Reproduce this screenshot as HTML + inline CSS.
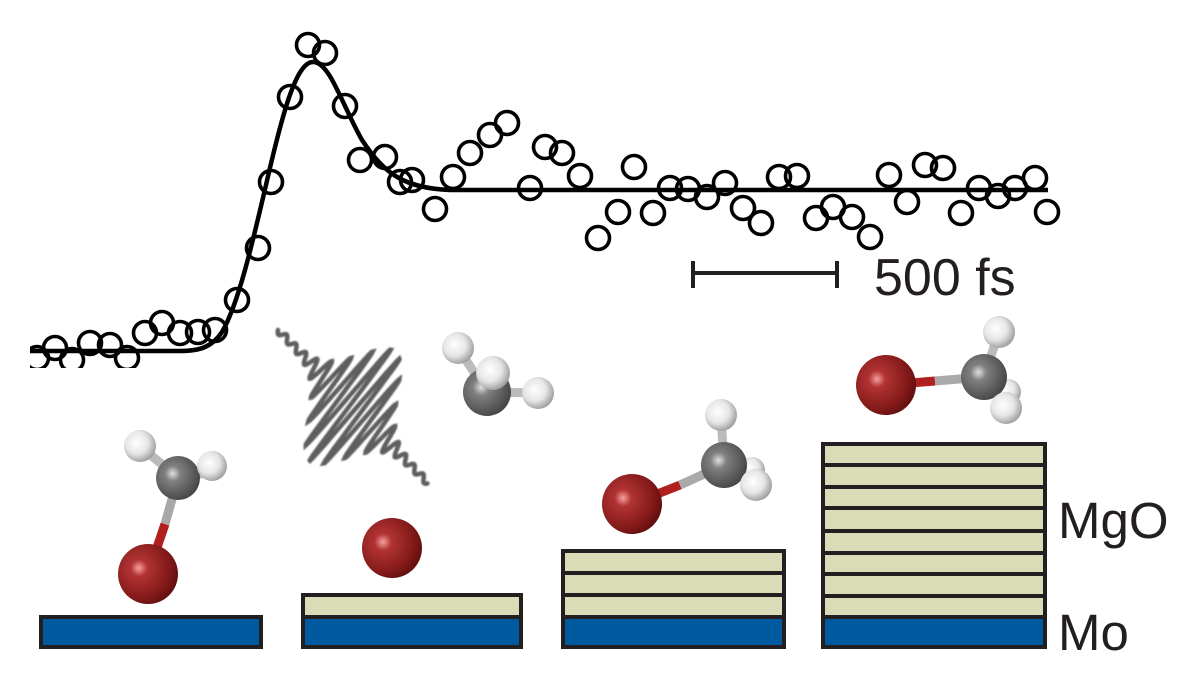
<!DOCTYPE html>
<html><head><meta charset="utf-8"><style>
html,body{margin:0;padding:0;background:#fff;}
svg{display:block;}
text{font-family:"Liberation Sans",sans-serif;fill:#231f20;}
</style></head><body>
<svg width="1200" height="675" viewBox="0 0 1200 675" xmlns="http://www.w3.org/2000/svg">
<defs>
<radialGradient id="br" cx="0.35" cy="0.4" r="0.7"><stop offset="0" stop-color="#f7a0a0"/><stop offset="0.2" stop-color="#b23333"/><stop offset="0.75" stop-color="#801818"/><stop offset="1" stop-color="#5a0d0d"/></radialGradient>
<radialGradient id="c" cx="0.38" cy="0.4" r="0.7"><stop offset="0" stop-color="#e0e0e0"/><stop offset="0.25" stop-color="#808080"/><stop offset="1" stop-color="#3e3e3e"/></radialGradient>
<radialGradient id="h" cx="0.4" cy="0.4" r="0.7"><stop offset="0" stop-color="#ffffff"/><stop offset="0.5" stop-color="#e6e6e6"/><stop offset="1" stop-color="#8a8a8a"/></radialGradient>
<filter id="blur"><feGaussianBlur stdDeviation="0.8"/></filter>
</defs>

<path d="M30,351 L180,351 C200,351 212,347 222,332 C238,305 252,245 266,185 C282,115 296,62 313,62 C330,62 342,105 362,140 C385,175 405,188 450,190 L1048,190" fill="none" stroke="#000" stroke-width="4.5"/>
<g id="pts" fill="none" stroke="#000" stroke-width="3.6"></g>

<g stroke="#231f20" stroke-width="4"><line x1="693" y1="273" x2="837" y2="273"/><line x1="693" y1="261" x2="693" y2="288"/><line x1="837" y1="261" x2="837" y2="288"/></g>
<text x="874" y="295" font-size="52">500 fs</text>

<g stroke="#231f20" stroke-width="4">
<rect x="41" y="617" width="220" height="30" fill="#005aa0"/>
<rect x="303" y="595" width="218" height="22" fill="#dadcb8"/>
<rect x="303" y="617" width="218" height="30" fill="#005aa0"/>
<rect x="563" y="551" width="221" height="22" fill="#dadcb8"/>
<rect x="563" y="573" width="221" height="22" fill="#dadcb8"/>
<rect x="563" y="595" width="221" height="22" fill="#dadcb8"/>
<rect x="563" y="617" width="221" height="30" fill="#005aa0"/>
<g fill="#dadcb8">
<rect x="823" y="444" width="222" height="21"/><rect x="823" y="465" width="222" height="22"/><rect x="823" y="487" width="222" height="21"/><rect x="823" y="508" width="222" height="23"/><rect x="823" y="531" width="222" height="22"/><rect x="823" y="553" width="222" height="21"/><rect x="823" y="574" width="222" height="22"/><rect x="823" y="596" width="222" height="21"/>
</g>
<rect x="823" y="617" width="222" height="30" fill="#005aa0"/>
</g>
<text x="1058" y="538" font-size="51">MgO</text>
<text x="1058" y="650" font-size="51">Mo</text>

<path id="pulse" fill="none" stroke="#5e5e5e" stroke-width="4.5" stroke-linecap="round" filter="url(#blur)"/>

<line x1="148" y1="574" x2="165" y2="524" stroke="#b02020" stroke-width="9"/>
<line x1="165" y1="524" x2="178" y2="478" stroke="#a8a8a8" stroke-width="9"/>
<line x1="178" y1="478" x2="140" y2="446" stroke="#bbb" stroke-width="9"/>
<line x1="178" y1="478" x2="217" y2="471" stroke="#bbb" stroke-width="9"/>
<circle cx="140" cy="446" r="16" fill="url(#h)"/>
<circle cx="178" cy="478" r="22" fill="url(#c)"/>
<circle cx="212" cy="466" r="15" fill="url(#h)"/>
<circle cx="148" cy="574" r="30" fill="url(#br)"/>

<circle cx="392" cy="548" r="30" fill="url(#br)"/>
<line x1="458" y1="348" x2="487" y2="392" stroke="#bbb" stroke-width="9"/>
<line x1="487" y1="392" x2="538" y2="393" stroke="#bbb" stroke-width="9"/>
<circle cx="458" cy="348" r="16" fill="url(#h)"/>
<circle cx="487" cy="392" r="24" fill="url(#c)"/>
<circle cx="493" cy="373" r="17" fill="url(#h)"/>
<circle cx="538" cy="393" r="16" fill="url(#h)"/>

<line x1="632" y1="504" x2="680" y2="485" stroke="#b02020" stroke-width="9"/>
<line x1="680" y1="485" x2="724" y2="465" stroke="#aaa" stroke-width="9"/>
<line x1="724" y1="465" x2="721" y2="415" stroke="#bbb" stroke-width="9"/>
<circle cx="721" cy="415" r="16" fill="url(#h)"/>
<circle cx="752" cy="470" r="13" fill="url(#h)"/>
<circle cx="724" cy="465" r="23" fill="url(#c)"/>
<circle cx="756" cy="485" r="16" fill="url(#h)"/>
<circle cx="632" cy="504" r="30" fill="url(#br)"/>

<line x1="886" y1="385" x2="935" y2="381" stroke="#b02020" stroke-width="9"/>
<line x1="935" y1="381" x2="984" y2="377" stroke="#aaa" stroke-width="9"/>
<line x1="984" y1="377" x2="999" y2="332" stroke="#bbb" stroke-width="9"/>
<circle cx="999" cy="332" r="16" fill="url(#h)"/>
<circle cx="1008" cy="392" r="13" fill="url(#h)"/>
<circle cx="984" cy="377" r="23" fill="url(#c)"/>
<circle cx="1006" cy="408" r="16" fill="url(#h)"/>
<circle cx="886" cy="385" r="30" fill="url(#br)"/>
</svg>
<script>
var P=[[37,358],[55,348],[72,360],[90,343],[110,345],[127,358],[145,333],[162,323],[180,333],[198,332],[215,330],[237,300],[258,248],[271,182],[290,97],[308,45],[325,53],[345,106],[360,160],[385,157],[400,182],[412,180],[435,209],[453,177],[470,153],[490,135],[507,123],[530,188],[545,147],[562,153],[580,176],[598,238],[618,212],[634,167],[653,213],[670,188],[688,189],[707,197],[725,183],[743,208],[761,223],[779,177],[797,176],[816,218],[833,207],[852,217],[870,237],[889,175],[907,202],[925,165],[943,168],[961,213],[979,188],[998,196],[1015,188],[1035,178],[1047,212]];
var g=document.getElementById('pts'),ns='http://www.w3.org/2000/svg';
P.forEach(function(p){var c=document.createElementNS(ns,'circle');c.setAttribute('cx',p[0]);c.setAttribute('cy',p[1]);c.setAttribute('r',11.5);g.appendChild(c);});
var r=document.createElementNS(ns,'rect');r.setAttribute('x',0);r.setAttribute('y',300);r.setAttribute('width',30);r.setAttribute('height',80);r.setAttribute('fill','#fff');g.parentNode.insertBefore(r,g.nextSibling);
var r2=document.createElementNS(ns,'rect');r2.setAttribute('x',0);r2.setAttribute('y',368);r2.setAttribute('width',200);r2.setAttribute('height',20);r2.setAttribute('fill','#fff');g.parentNode.insertBefore(r2,g.nextSibling);
var x0=278,y0=330,x1=428,y1=483,L=Math.hypot(x1-x0,y1-y0),ux=(x1-x0)/L,uy=(y1-y0)/L,px=-uy,py=ux,d='';
for(var s=0;s<=L;s+=0.5){var t=(s-L/2)/36;var a=66*Math.exp(-t*t)+3;var v=a*Math.sin(s*2*Math.PI/13);var X=x0+ux*s+px*v+ux*v*0.12,Y=y0+uy*s+py*v+uy*v*0.12;d+=(s?'L':'M')+X.toFixed(1)+','+Y.toFixed(1);}
document.getElementById('pulse').setAttribute('d',d);
</script>
</body></html>
